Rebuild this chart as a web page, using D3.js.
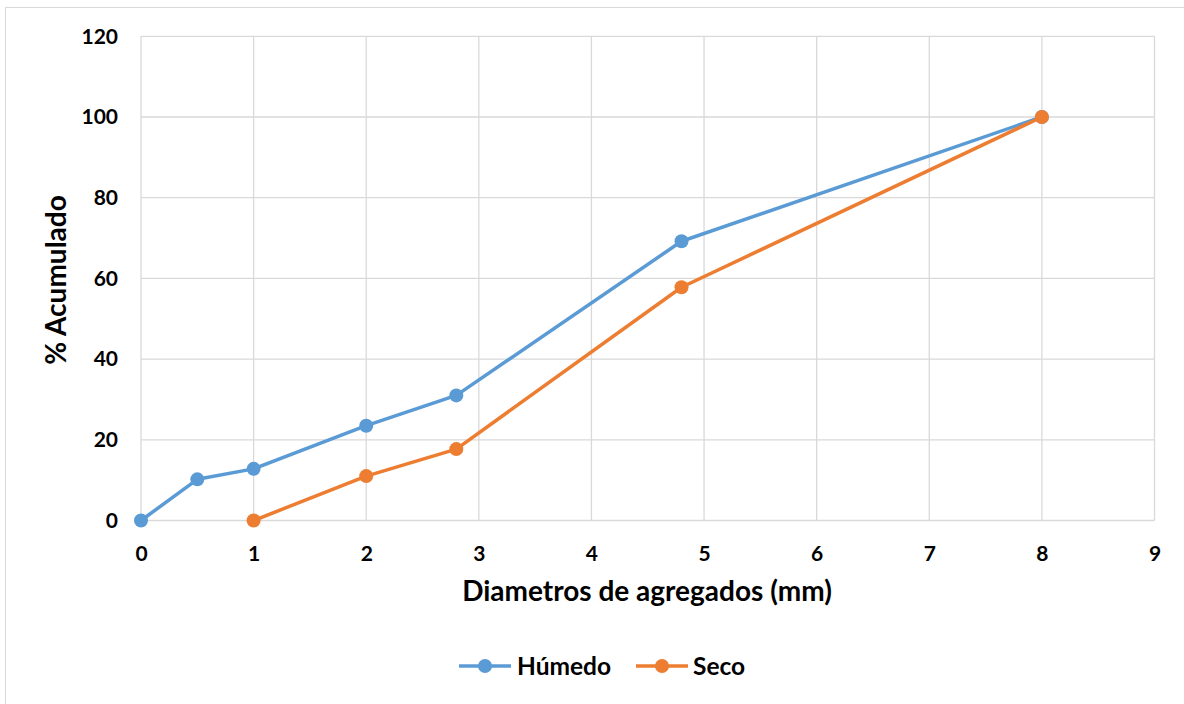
<!DOCTYPE html>
<html>
<head>
<meta charset="utf-8">
<script src="https://cdn.jsdelivr.net/npm/d3@7"></script>
<style>
  html, body { margin: 0; padding: 0; background: #fff; }
  svg text { font-family: Lato, "Open Sans", sans-serif; font-weight: bold; fill: #000; }
</style>
</head>
<body>
<svg id="chart" width="1184" height="704"></svg>
<script>
// Granulometric curve: cumulative percentage vs aggregate diameter
const humedoX = [0, 0.5, 1, 2, 2.8, 4.8, 8];
const humedoY = [0, 10.2, 12.8, 23.5, 31.0, 69.2, 100];
const secoX = [1, 2, 2.8, 4.8, 8];
const secoY = [0, 11.0, 17.7, 57.8, 100];
const xTicks = [0, 1, 2, 3, 4, 5, 6, 7, 8, 9];
const yTicks = [0, 20, 40, 60, 80, 100, 120];
const seriesNames = ["Húmedo", "Seco"];
const seriesColors = ["#5B9BD5", "#ED7D31"];

const svg = d3.select("#chart");

// chart frame
svg.append("rect")
  .attr("x", 5.5).attr("y", 7.5)
  .attr("width", 1180).attr("height", 700)
  .attr("fill", "#fff").attr("stroke", "#D9D9D9").attr("stroke-width", 1);

const x = d3.scaleLinear().domain([0, 9]).range([141, 1154.5]);
const y = d3.scaleLinear().domain([0, 120]).range([520.5, 36.3]);

// gridlines
const grid = svg.append("g");
grid.selectAll("line.v").data(xTicks).join("line")
  .attr("x1", d => x(d)).attr("x2", d => x(d))
  .attr("y1", y(0)).attr("y2", y(120))
  .attr("stroke", "#D9D9D9").attr("stroke-width", 1.3);
grid.selectAll("line.h").data(yTicks).join("line")
  .attr("x1", x(0)).attr("x2", x(9))
  .attr("y1", d => y(d)).attr("y2", d => y(d))
  .attr("stroke", "#D9D9D9").attr("stroke-width", 1.3);

// axes (labels only, gridlines draw the lines)
const xAxis = svg.append("g")
  .attr("transform", `translate(0,${y(0)})`)
  .call(d3.axisBottom(x).tickValues(xTicks).tickSize(0).tickFormat(d3.format("d")));
xAxis.select(".domain").remove();
xAxis.selectAll("text").attr("font-size", 21).attr("y", 33).attr("dy", "0.35em");

const yAxis = svg.append("g")
  .attr("transform", `translate(${x(0)},0)`)
  .call(d3.axisLeft(y).tickValues(yTicks).tickSize(0).tickPadding(23).tickFormat(d3.format("d")));
yAxis.select(".domain").remove();
yAxis.selectAll("text").attr("font-size", 21);

// axis titles
svg.append("text")
  .attr("x", 647).attr("y", 601)
  .attr("text-anchor", "middle").attr("font-size", 28)
  .text("Diametros de agregados (mm)");
svg.append("text")
  .attr("transform", "translate(66,280) rotate(-90)")
  .attr("text-anchor", "middle").attr("font-size", 28)
  .text("% Acumulado");

// series
const series = [
  humedoX.map((v, i) => [v, humedoY[i]]),
  secoX.map((v, i) => [v, secoY[i]])
];
const line = d3.line().x(d => x(d[0])).y(d => y(d[1]));

series.forEach((pts, i) => {
  const g = svg.append("g");
  g.append("path")
    .attr("d", line(pts))
    .attr("fill", "none")
    .attr("stroke", seriesColors[i])
    .attr("stroke-width", 3.5)
    .attr("stroke-linejoin", "round");
  g.selectAll("circle").data(pts).join("circle")
    .attr("cx", d => x(d[0])).attr("cy", d => y(d[1]))
    .attr("r", 7).attr("fill", seriesColors[i]);
});

// legend
const legend = svg.append("g");
const legendItems = [
  { x0: 459, tx: 517 },
  { x0: 636, tx: 693 }
];
seriesNames.forEach((name, i) => {
  const g = legend.append("g");
  g.append("line")
    .attr("x1", legendItems[i].x0).attr("x2", legendItems[i].x0 + 52)
    .attr("y1", 666).attr("y2", 666)
    .attr("stroke", seriesColors[i]).attr("stroke-width", 3.5);
  g.append("circle")
    .attr("cx", legendItems[i].x0 + 26).attr("cy", 666)
    .attr("r", 7).attr("fill", seriesColors[i]);
  g.append("text")
    .attr("x", legendItems[i].tx).attr("y", 666)
    .attr("dy", "0.35em").attr("font-size", 24.5)
    .text(name);
});
</script>
</body>
</html>
